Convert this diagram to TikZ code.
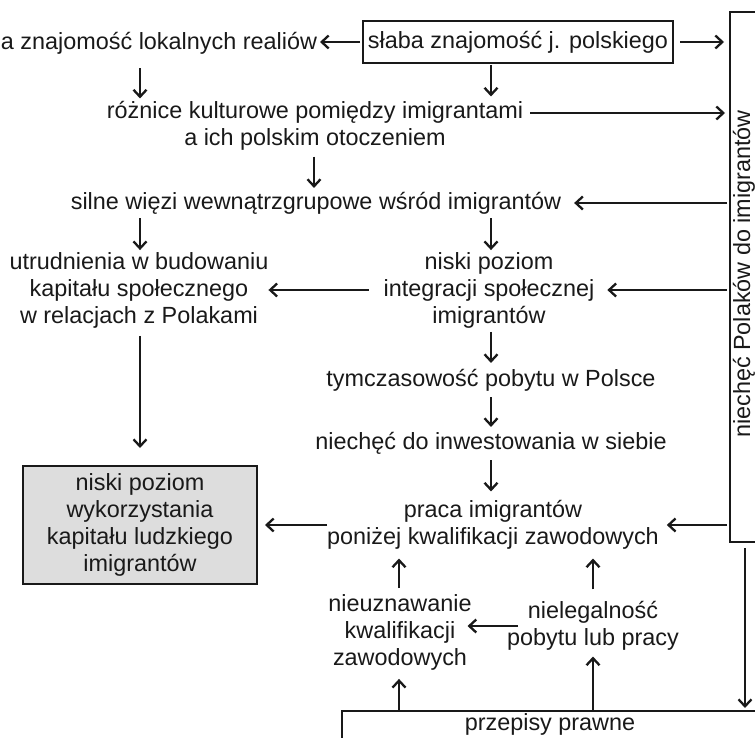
\documentclass[tikz,border=0pt]{standalone}
\usepackage{fontspec}
\setmainfont{Liberation Sans}
\usetikzlibrary{arrows.meta}
\definecolor{boxgrey}{RGB}{221,221,221}
\definecolor{ink}{RGB}{25,25,25}
\begin{document}
\begin{tikzpicture}[x=1pt,y=-1pt,
  txt/.style={inner sep=0pt, outer sep=0pt, align=center, font=\fontsize{23.4}{27}\selectfont, text=ink},
  box/.style={txt, draw=ink, line width=2.3pt},
  arr/.style={draw=ink, line width=2.3pt, -{Straight Barb[length=7pt,width=13pt]}, shorten <=5pt, shorten >=5pt},
]
\path[use as bounding box] (0,0) rectangle (755,738);
\clip (0,0) rectangle (755,738);

% column coordinates
\coordinate (cL) at (140,0);
\coordinate (cM) at (314,0);
\coordinate (cR) at (491,0);
\coordinate (cA) at (399,0);
\coordinate (cB) at (593,0);
\coordinate (cV) at (745,0);

% nodes
\node[txt, anchor=east] (realia) at (317,43) {a znajomość lokalnych realiów};
\node[box, minimum width=310pt, minimum height=42pt] (slaba) at (518,42) {słaba znajomość j. polskiego};
\node[txt] (roznice) at (315,126) {różnice kulturowe pomiędzy imigrantami\\a ich polskim otoczeniem};
\node[txt] (silne) at (316,203) {silne więzi wewnątrzgrupowe wśród imigrantów};
\node[txt] (utrud) at (139,290) {utrudnienia w budowaniu\\kapitału społecznego\\w relacjach z Polakami};
\node[txt] (niski) at (489,290) {niski poziom\\integracji społecznej\\imigrantów};
\node[txt] (tymcz) at (491,380) {tymczasowość pobytu w Polsce};
\node[txt] (niechec) at (491,443) {niechęć do inwestowania w siebie};
\node[txt] (praca) at (493,525) {praca imigrantów\\poniżej kwalifikacji zawodowych};
\node[box, fill=boxgrey, line width=2.6pt, minimum width=234pt, minimum height=118pt] (grey) at (140,525) {niski poziom\\wykorzystania\\kapitału ludzkiego\\imigrantów};
\node[txt] (nieuzn) at (400,632) {nieuznawanie\\kwalifikacji\\zawodowych};
\node[txt] (nieleg) at (593,626) {nielegalność\\pobytu lub pracy};

\node[draw=ink, line width=2.3pt, inner sep=0pt, outer sep=0pt, minimum width=40pt, minimum height=530pt] (rbox) at (750,277) {};
\node[txt, rotate=90] (rtext) at (744,274) {niechęć Polaków do imigrantów};

\node[draw=ink, line width=2.3pt, inner sep=0pt, outer sep=0pt, minimum width=440pt, minimum height=60pt, anchor=north west] (prz) at (342,711) {};
\node[txt] (przt) at (550,724) {przepisy prawne};

\coordinate (r1) at ([yshift=13pt]roznice.east);

% vertical arrows
\draw[arr, shorten <=14pt, shorten >=3pt] (realia.south -| cL) -- (roznice.north -| cL);
\draw[arr, shorten <=2pt, shorten >=5pt] (slaba.south -| cR) -- (roznice.north -| cR);
\draw[arr, shorten <=6pt, shorten >=4pt] (roznice.south -| cM) -- (silne.north -| cM);
\draw[arr, shorten <=4pt, shorten >=2pt] (silne.south -| cL) -- (utrud.north -| cL);
\draw[arr, shorten <=4pt, shorten >=2pt] (silne.south -| cR) -- (niski.north -| cR);
\draw[arr, shorten <=4pt, shorten >=6pt] (niski.south -| cR) -- (tymcz.north -| cR);
\draw[arr, shorten <=6pt, shorten >=5pt] (tymcz.south -| cR) -- (niechec.north -| cR);
\draw[arr, shorten <=6pt, shorten >=9pt] (niechec.south -| cR) -- (praca.north -| cR);
\draw[arr, shorten <=8pt, shorten >=18pt] (utrud.south -| cL) -- (grey.north -| cL);
\draw[arr, shorten <=6pt, shorten >=9pt] (nieuzn.north -| cA) -- (praca.south -| cA);
\draw[arr, shorten <=12pt, shorten >=9pt] (nieleg.north -| cB) -- (praca.south -| cB);
\draw[arr, shorten <=1pt, shorten >=9pt] (prz.north -| cA) -- (nieuzn.south -| cA);
\draw[arr, shorten <=1pt, shorten >=6pt] (prz.north -| cB) -- (nieleg.south -| cB);
\draw[arr, shorten <=6pt, shorten >=3pt] (rbox.south -| cV) -- (prz.north -| cV);

% horizontal arrows
\draw[arr, shorten <=3pt, shorten >=3pt] (slaba.west) -- (slaba.west -| realia.east);
\draw[arr, shorten <=7pt, shorten >=6pt] (slaba.east) -- (slaba.east -| rbox.west);
\draw[arr, shorten <=7pt, shorten >=5pt] (r1) -- (r1 -| rbox.west);
\draw[arr, shorten <=3pt, shorten >=13pt] (silne.east -| rbox.west) -- (silne.east);
\draw[arr, shorten <=15pt, shorten >=0pt] (niski.west) -- (niski.west -| utrud.east);
\draw[arr, shorten <=3pt, shorten >=13pt] (niski.east -| rbox.west) -- (niski.east);
\draw[arr, shorten <=3pt, shorten >=8pt] (praca.east -| rbox.west) -- (praca.east);
\draw[arr, shorten <=0pt, shorten >=8pt] (praca.west) -- (praca.west -| grey.east);
\draw[arr, shorten <=-11pt, shorten >=-4pt] (nieleg.west) -- (nieleg.west -| nieuzn.east);
\end{tikzpicture}
\end{document}
